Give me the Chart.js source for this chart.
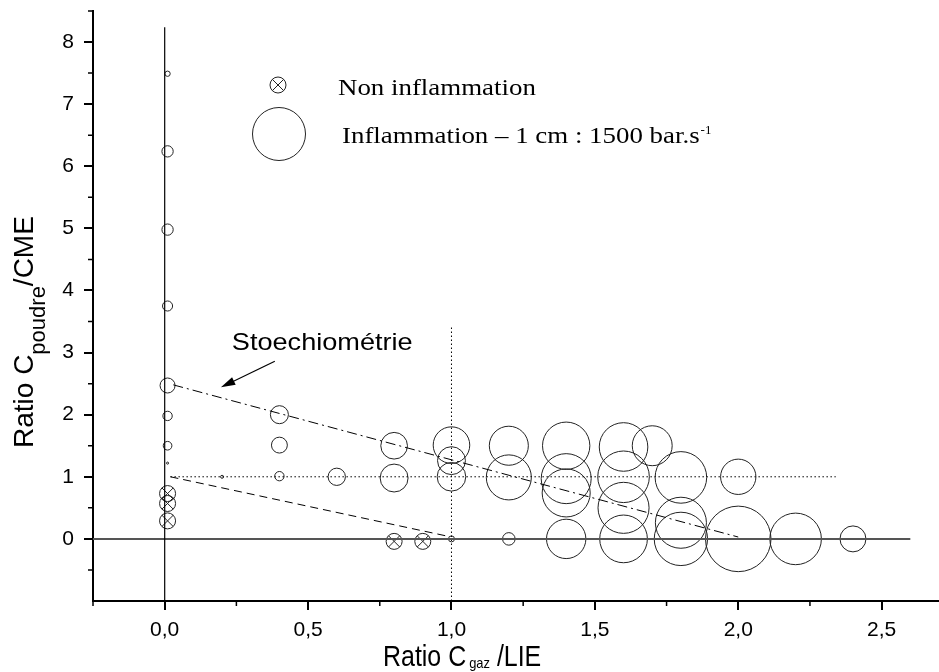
<!DOCTYPE html>
<html>
<head>
<meta charset="utf-8">
<title>Inflammation - ratio poudre / gaz</title>
<script src="https://cdn.jsdelivr.net/npm/chart.js@4.4.1/dist/chart.umd.min.js"></script>
<style>
    html, body { margin: 0; padding: 0; background: #fff; }
    #wrap { width: 939px; height: 672px; }
</style>
</head>
<body>
<div id="wrap"><canvas id="myChart" width="939" height="672"></canvas></div>
<script>
// essais avec inflammation : x = C gaz / LIE, y = C poudre / CME, rate = dP/dt max (bar/s)
const inflX = [0.01, 0.01, 0.01, 0.01, 0.01, 0.01, 0.01, 0.01, 0.2, 0.4, 0.4, 0.4, 0.6, 0.8, 0.8,
    1.0, 1.0, 1.0, 1.0, 1.2, 1.2, 1.2, 1.4, 1.4, 1.4, 1.4, 1.6, 1.6, 1.6, 1.6, 1.7, 1.8, 1.8, 1.8,
    2.0, 2.0, 2.2, 2.4];
const inflY = [7.49, 6.24, 4.98, 3.75, 2.47, 1.98, 1.5, 1.22, 1.0, 2.0, 1.51, 1.01, 1.0, 1.5, 0.98,
    1.51, 1.26, 1.0, 0.0, 1.5, 0.99, 0.0, 1.5, 0.97, 0.74, 0.0, 1.48, 1.0, 0.5, 0.0, 1.5, 0.99, 0.26, 0.0,
    1.0, 0.0, 0.0, 0.0];
const inflRate = [150, 320, 320, 285, 425, 265, 245, 60, 85, 510, 450, 265, 490, 755, 790,
    1035, 790, 810, 170, 1105, 1275, 355, 1340, 1415, 1360, 1115, 1375, 1460, 1445, 1350, 1130, 1460, 1445, 1510,
    1000, 1855, 1460, 735];

// essais sans inflammation
const nonX = [0.01, 0.01, 0.01, 0.8, 0.9];
const nonY = [0.73, 0.57, 0.29, -0.04, -0.04];

// traits de repere
const stoechX = [0.03, 2.0];
const stoechY = [2.48, 0.03];
const dashX = [0.02, 0.98];
const dashY = [1.0, 0.05];
const vertX = [0, 0];
const vertY = [-1, 8.24];
const zeroX = [-0.25, 2.6];
const zeroY = [0, 0];
const lieX = [1, 1];
const lieY = [-1, 3.43];
const cmeX = [0.02, 2.34];
const cmeY = [1, 1];

// fleche "Stoechiometrie" (coordonnees donnees)
const arrowFrom = [0.384, 2.86];
const arrowTo = [0.196, 2.44];
const noteAt = [0.234, 3.04];

const xTicks = [0, 0.5, 1, 1.5, 2, 2.5];
const xTickLabels = ["0,0", "0,5", "1,0", "1,5", "2,0", "2,5"];
const xMinor = [-0.25, 0.25, 0.75, 1.25, 1.75, 2.25];
const yTicks = [0, 1, 2, 3, 4, 5, 6, 7, 8];
const yTickLabels = ["0", "1", "2", "3", "4", "5", "6", "7", "8"];
const yMinor = [-0.5, 0.5, 1.5, 2.5, 3.5, 4.5, 5.5, 6.5, 7.5, 8.5];

// echelle des bulles : 1 cm = 1500 bar/s
const RATE_PER_CM = 1500;
const PX_PER_CM = 53;
const rateToR = v => v / RATE_PER_CM * PX_PER_CM / 2;

const pts = (xs, ys) => xs.map((x, i) => ({ x: x, y: ys[i] }));

const SANS = "'Liberation Sans', Arial, sans-serif";
const SERIF = "'Liberation Serif', 'Times New Roman', serif";
const INK = "#222";

function refLine(xs, ys, color, width, dash) {
    return {
        type: "scatter",
        data: pts(xs, ys),
        showLine: true,
        borderColor: color,
        borderWidth: width,
        borderDash: dash,
        pointRadius: 0,
        fill: false,
    };
}

function text(ctx, str, x, y, font, sx) {
    ctx.save();
    ctx.font = font;
    ctx.translate(x, y);
    ctx.scale(sx, 1);
    ctx.fillText(str, 0, 0);
    const w = ctx.measureText(str).width * sx;
    ctx.restore();
    return w;
}

const decor = {
    id: "decor",
    afterDraw(chart) {
        const { ctx, chartArea: a } = chart;
        const sx = chart.scales.x, sy = chart.scales.y;
        ctx.save();
        ctx.strokeStyle = "#000";
        ctx.fillStyle = "#000";

        // petites graduations
        ctx.lineWidth = 1.5;
        ctx.beginPath();
        xMinor.forEach(v => {
            const p = sx.getPixelForValue(v);
            ctx.moveTo(p, a.bottom);
            ctx.lineTo(p, a.bottom + 5);
        });
        yMinor.forEach(v => {
            const p = sy.getPixelForValue(v);
            ctx.moveTo(a.left - 5, p);
            ctx.lineTo(a.left, p);
        });
        ctx.stroke();

        // titre axe Y
        ctx.textBaseline = "alphabetic";
        ctx.save();
        ctx.translate(33, 448);
        ctx.rotate(-Math.PI / 2);
        let w = text(ctx, "Ratio C", 0, 0, "28px " + SANS, 1);
        w += text(ctx, "poudre", w, 12, "22px " + SANS, 1);
        text(ctx, "/CME", w, 0, "28px " + SANS, 1);
        ctx.restore();

        // titre axe X
        let xx = 383;
        xx += text(ctx, "Ratio C", xx, 666, "29px " + SANS, 0.86);
        xx += 3;
        xx += text(ctx, "gaz", xx, 668, "15px " + SANS, 0.86);
        text(ctx, " /LIE", xx, 666, "29px " + SANS, 0.86);

        // legende
        ctx.lineWidth = 1;
        ctx.strokeStyle = INK;
        ctx.beginPath();
        ctx.arc(278, 85, 8, 0, Math.PI * 2);
        const d = 8 * Math.SQRT1_2;
        ctx.moveTo(278 - d, 85 - d); ctx.lineTo(278 + d, 85 + d);
        ctx.moveTo(278 - d, 85 + d); ctx.lineTo(278 + d, 85 - d);
        ctx.stroke();
        ctx.beginPath();
        ctx.arc(279, 134, rateToR(RATE_PER_CM), 0, Math.PI * 2);
        ctx.stroke();
        ctx.fillStyle = "#000";
        text(ctx, "Non inflammation", 338, 95, "24px " + SERIF, 1.12);
        const lw = text(ctx, "Inflammation \u2013 1 cm : 1500 bar.s", 342, 143, "24px " + SERIF, 1.12);
        text(ctx, "-1", 342 + lw + 1, 134, "13px " + SERIF, 1.0);

        // annotation stoechiometrie
        text(ctx, "Stoechiom\u00e9trie", sx.getPixelForValue(noteAt[0]), sy.getPixelForValue(noteAt[1]),
            "24px " + SANS, 1.13);
        const x0 = sx.getPixelForValue(arrowFrom[0]), y0 = sy.getPixelForValue(arrowFrom[1]);
        const x1 = sx.getPixelForValue(arrowTo[0]), y1 = sy.getPixelForValue(arrowTo[1]);
        const ang = Math.atan2(y1 - y0, x1 - x0);
        ctx.strokeStyle = "#000";
        ctx.lineWidth = 1.2;
        ctx.beginPath();
        ctx.moveTo(x0, y0);
        ctx.lineTo(x1 - 10 * Math.cos(ang), y1 - 10 * Math.sin(ang));
        ctx.stroke();
        ctx.beginPath();
        ctx.moveTo(x1, y1);
        ctx.lineTo(x1 - 15 * Math.cos(ang - 0.28), y1 - 15 * Math.sin(ang - 0.28));
        ctx.lineTo(x1 - 15 * Math.cos(ang + 0.28), y1 - 15 * Math.sin(ang + 0.28));
        ctx.closePath();
        ctx.fill();

        ctx.restore();
    },
};

const data = {
    datasets: [
        refLine(vertX, vertY, "#000", 1.2, []),
        refLine(zeroX, zeroY, "#555", 2, []),
        refLine(lieX, lieY, "#000", 1, [1.5, 2.5]),
        refLine(cmeX, cmeY, "#000", 1, [1.5, 2.5]),
        refLine(dashX, dashY, "#000", 1, [8, 5]),
        refLine(stoechX, stoechY, "#000", 1, [10, 4, 2, 4]),
        {
            type: "bubble",
            label: "Inflammation",
            data: inflX.map((x, i) => ({ x: x, y: inflY[i], r: rateToR(inflRate[i]) })),
            backgroundColor: "rgba(0,0,0,0)",
            borderColor: INK,
            borderWidth: 1,
        },
        {
            type: "scatter",
            label: "Non inflammation",
            data: pts(nonX, nonY),
            pointStyle: "circle",
            pointRadius: 8,
            backgroundColor: "rgba(0,0,0,0)",
            borderColor: INK,
            borderWidth: 1,
        },
        {
            type: "scatter",
            label: "Non inflammation x",
            data: pts(nonX, nonY),
            pointStyle: "crossRot",
            pointRadius: 8,
            borderColor: INK,
            borderWidth: 1,
        },
    ],
};

const config = {
    type: "bubble",
    data: data,
    options: {
        responsive: false,
        animation: false,
        events: [],
        layout: { autoPadding: false, padding: { top: 11, right: 0, bottom: 0, left: 0 } },
        plugins: {
            legend: { display: false },
            tooltip: { enabled: false },
        },
        scales: {
            x: {
                type: "linear",
                min: -0.25,
                max: 2.7,
                afterBuildTicks: s => { s.ticks = xTicks.map(v => ({ value: v })); },
                afterFit: s => { s.height = 71; s.paddingLeft = 0; s.paddingRight = 0; },
                ticks: {
                    color: "#000",
                    padding: 8,
                    font: { family: SANS, size: 21 },
                    callback: (v, i) => xTickLabels[i],
                },
                grid: { drawOnChartArea: false, tickLength: 9, color: "#000", lineWidth: 2 },
                border: { color: "#000", width: 2 },
            },
            y: {
                type: "linear",
                min: -1,
                max: 8.5,
                afterBuildTicks: s => { s.ticks = yTicks.map(v => ({ value: v })); },
                afterFit: s => { s.width = 93; s.paddingTop = 0; s.paddingBottom = 0; },
                ticks: {
                    color: "#000",
                    padding: 10,
                    font: { family: SANS, size: 21 },
                    callback: (v, i) => yTickLabels[i],
                },
                grid: { drawOnChartArea: false, tickLength: 9, color: "#000", lineWidth: 2 },
                border: { color: "#000", width: 2 },
            },
        },
    },
    plugins: [decor],
};

new Chart(document.getElementById("myChart"), config);
</script>
</body>
</html>
